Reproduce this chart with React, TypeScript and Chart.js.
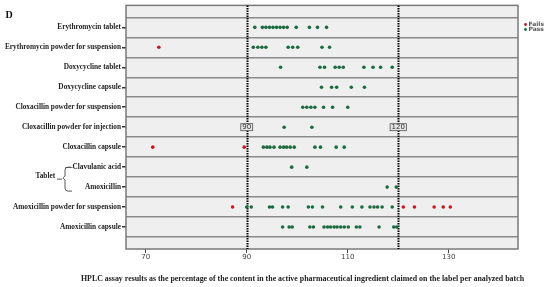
import React, { useEffect, useRef } from "react";
import { Chart, registerables } from "chart.js";

Chart.register(...registerables);

const categories = [
  "Erythromycin tablet",
  "Erythromycin powder for suspension",
  "Doxycycline tablet",
  "Doxycycline capsule",
  "Cloxacillin powder for suspension",
  "Cloxacillin powder for injection",
  "Cloxacillin capsule",
  "Clavulanic acid",
  "Amoxicillin",
  "Amoxicillin powder for suspension",
  "Amoxicillin capsule",
];

const xTicks = [70, 90, 110, 130];
const limitLines = [90, 120];

// Pass values per category (same order as categories)
const passErythroTablet = [91.6, 93.1, 93.8, 94.5, 95.2, 95.9, 96.6, 97.3, 98.0, 99.8, 102.4, 104.0, 105.8];
const passErythroPowder = [91.3, 92.2, 93.0, 93.8, 98.2, 99.1, 100.1, 104.9, 106.4];
const passDoxyTablet = [96.7, 104.5, 105.4, 107.5, 108.3, 109.1, 113.2, 115.0, 116.5, 118.8];
const passDoxyCapsule = [104.8, 106.8, 107.8, 110.7, 113.3];
const passCloxaPowderSusp = [101.1, 101.9, 102.7, 103.5, 105.2, 107.0, 110.0];
const passCloxaPowderInj = [97.4, 102.9];
const passCloxaCapsule = [93.3, 94.0, 94.6, 95.4, 96.6, 97.3, 97.9, 98.6, 99.4, 103.5, 104.6, 107.7, 109.3];
const passClavulanic = [98.9, 101.9];
const passAmoxTablet = [117.8, 119.6];
const passAmoxPowder = [90.0, 90.9, 94.5, 95.1, 97.1, 98.2, 102.2, 103.0, 105.0, 108.6, 110.9, 112.8, 114.4, 115.2, 115.9, 116.8, 118.8];
const passAmoxCapsule = [97.1, 98.4, 99.0, 102.5, 103.2, 105.3, 106.0, 106.6, 107.3, 107.9, 108.6, 109.3, 110.1, 111.7, 112.4, 116.2, 119.1, 119.7];

// Fail values per category
const failErythroPowder = [72.6];
const failCloxaCapsule = [71.4, 89.5];
const failAmoxPowder = [87.2, 121.0, 123.2, 127.1, 128.9, 130.3];

const passByCategory = [
  passErythroTablet,
  passErythroPowder,
  passDoxyTablet,
  passDoxyCapsule,
  passCloxaPowderSusp,
  passCloxaPowderInj,
  passCloxaCapsule,
  passClavulanic,
  passAmoxTablet,
  passAmoxPowder,
  passAmoxCapsule,
];
const failByCategory = [
  [], failErythroPowder, [], [], [], [], failCloxaCapsule, [], [], failAmoxPowder, [],
];

const GREEN = "#1a6b3d";
const RED = "#c41a22";

const toPoints = (rows: number[][]) =>
  rows.flatMap((vals, i) => vals.map((v) => ({ x: v, y: i })));

const decorPlugin = {
  id: "decor",
  beforeDraw(chart: any) {
    const { ctx, chartArea: a } = chart;
    ctx.save();
    ctx.fillStyle = "#ffffff";
    ctx.fillRect(0, 0, chart.width, chart.height);
    ctx.fillStyle = "#efefef";
    ctx.fillRect(a.left, a.top, a.right - a.left, a.bottom - a.top);
    ctx.restore();
  },
  beforeDatasetsDraw(chart: any) {
    const { ctx, chartArea: a, scales } = chart;
    const x = scales.x;
    const y = scales.y;
    ctx.save();
    // frame
    ctx.strokeStyle = "#7a7a7a";
    ctx.lineWidth = 1.5;
    ctx.strokeRect(a.left, a.top, a.right - a.left, a.bottom - a.top);
    // limit lines
    ctx.strokeStyle = "#000";
    ctx.lineWidth = 2;
    ctx.setLineDash([1.5, 1]);
    limitLines.forEach((v) => {
      const px = Math.round(x.getPixelForValue(v)) + 0.5;
      ctx.beginPath();
      ctx.moveTo(px, a.top);
      ctx.lineTo(px, a.bottom);
      ctx.stroke();
    });
    ctx.setLineDash([]);
    // labels boxes
    ctx.font = "7px 'DejaVu Sans'";
    ctx.textAlign = "center";
    ctx.textBaseline = "middle";
    const py = y.getPixelForValue(5);
    limitLines.forEach((v) => {
      const px = x.getPixelForValue(v);
      const t = String(v);
      const w = ctx.measureText(t).width + 3;
      ctx.fillStyle = "#e4e4e4";
      ctx.fillRect(px - w / 2, py - 3.5, w, 7);
      ctx.strokeStyle = "#555";
      ctx.lineWidth = 0.8;
      ctx.strokeRect(px - w / 2, py - 3.5, w, 7);
      ctx.fillStyle = "#333";
      ctx.fillText(t, px, py + 0.3);
    });
    ctx.restore();
  },
  afterDraw(chart: any) {
    const { ctx, scales } = chart;
    const y = scales.y;
    ctx.save();
    // panel letter
    ctx.fillStyle = "#111";
    ctx.font = "bold 10px 'Liberation Serif'";
    ctx.textAlign = "left";
    ctx.textBaseline = "middle";
    ctx.fillText("D", 5.5, 15);
    // bracket for Tablet
    const y1 = y.getPixelForValue(7);
    const y2 = y.getPixelForValue(8);
    const mid = (y1 + y2) / 2;
    ctx.strokeStyle = "#444";
    ctx.lineWidth = 0.9;
    ctx.beginPath();
    ctx.moveTo(71, y1);
    ctx.lineTo(68, y1);
    ctx.quadraticCurveTo(65, y1, 65, y1 + 3);
    ctx.lineTo(65, mid - 1);
    ctx.lineTo(63, mid + 1);
    ctx.lineTo(65, mid + 3);
    ctx.lineTo(65, y2 + 1);
    ctx.quadraticCurveTo(65, y2 + 4, 68, y2 + 4);
    ctx.lineTo(72, y2 + 4);
    ctx.moveTo(57, mid + 2);
    ctx.lineTo(62, mid + 2);
    ctx.stroke();
    ctx.fillStyle = "#222";
    ctx.font = "bold 7.3px 'Liberation Serif'";
    ctx.textAlign = "left";
    ctx.textBaseline = "middle";
    ctx.fillText("Tablet", 35.5, mid - 0.5);
    // caption
    ctx.font = "bold 7.9px 'Liberation Serif'";
    ctx.textAlign = "center";
    ctx.fillText(
      "HPLC assay results as the percentage of the content in the active pharmaceutical ingredient claimed on the label per analyzed batch",
      302.5,
      278.5
    );
    // legend
    ctx.font = "bold 6px 'DejaVu Sans'";
    ctx.textAlign = "left";
    const items = [
      { t: "Fails", c: RED, yy: 24.5 },
      { t: "Pass", c: GREEN, yy: 29.5 },
    ];
    items.forEach((it) => {
      ctx.fillStyle = it.c;
      ctx.beginPath();
      ctx.arc(525.5, it.yy, 1.4, 0, Math.PI * 2);
      ctx.fill();
      ctx.fillStyle = "#555";
      ctx.fillText(it.t, 528.5, it.yy + 0.3);
    });
    ctx.restore();
  },
};

export default function App() {
  const ref = useRef<HTMLCanvasElement | null>(null);
  useEffect(() => {
    if (!ref.current) return;
    const chart = new Chart(ref.current, {
      type: "scatter",
      data: {
        datasets: [
          {
            label: "Pass",
            data: toPoints(passByCategory),
            backgroundColor: GREEN,
            borderWidth: 0,
            pointRadius: 1.8,
          },
          {
            label: "Fails",
            data: toPoints(failByCategory),
            backgroundColor: RED,
            borderWidth: 0,
            pointRadius: 1.8,
          },
        ],
      },
      options: {
        animation: false,
        responsive: false,
        devicePixelRatio: 1,
        layout: { padding: { left: 0, top: 4, right: 32, bottom: 0 } },
        plugins: {
          legend: { display: false },
          tooltip: { enabled: false },
          title: { display: false },
        },
        scales: {
          x: {
            type: "linear",
            min: 66.1,
            max: 143.7,
            afterBuildTicks: (s: any) => {
              s.ticks = xTicks.map((v) => ({ value: v }));
            },
            afterFit: (s: any) => {
              s.height = 38;
            },
            grid: {
              drawOnChartArea: false,
              drawTicks: true,
              tickLength: 4,
              tickColor: "#444",
              lineWidth: 1,
            },
            border: { display: false },
            ticks: {
              padding: 0,
              color: "#444",
              font: { family: "'DejaVu Sans'", size: 7 },
              maxRotation: 0,
            },
          },
          y: {
            type: "linear",
            min: -1.1,
            max: 11.1,
            reverse: true,
            afterBuildTicks: (s: any) => {
              const t: any[] = [];
              for (let v = -0.5; v <= 10.5; v += 0.5) t.push({ value: v });
              s.ticks = t;
            },
            afterFit: (s: any) => {
              s.width = 126;
            },
            grid: {
              color: (c: any) =>
                c.tick && !Number.isInteger(c.tick.value) ? "#8a8a8a" : "rgba(0,0,0,0)",
              tickColor: (c: any) =>
                c.tick && Number.isInteger(c.tick.value) ? "#333" : "rgba(0,0,0,0)",
              lineWidth: 1.5,
              tickLength: 4,
              drawTicks: true,
            },
            border: { display: false },
            ticks: {
              autoSkip: false,
              padding: 1,
              color: "#222",
              font: { family: "'Liberation Serif'", size: 7.3, weight: "bold" },
              callback: (v: any) => {
                const n = Number(v);
                if (!Number.isInteger(n)) return "";
                const lab = categories[n] ?? "";
                return n === 7 ? "\u2014" + lab : lab;
              },
            },
          },
        },
      },
      plugins: [decorPlugin],
    } as any);
    return () => chart.destroy();
  }, []);
  return (
    <div style={{ position: "absolute", left: 0, top: 0, width: 550, height: 287 }}>
      <canvas ref={ref} width={550} height={287} style={{ width: 550, height: 287 }} />
    </div>
  );
}
